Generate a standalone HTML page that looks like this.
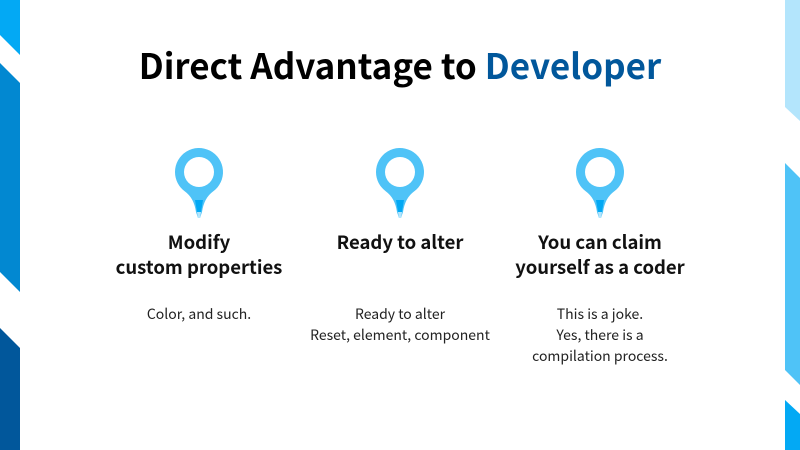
<!DOCTYPE html>
<html><head><style>
body{margin:0;width:800px;height:450px;background:#fff;position:relative;overflow:hidden;font-family:"Noto Sans CJK JP","Liberation Sans",sans-serif;}
.t{position:absolute;left:0;width:800px;top:37px;text-align:center;font-size:35px;font-weight:bold;color:#000;line-height:56px}
.col{position:absolute;width:240px;text-align:center}
h3{margin:0;font-size:18.5px;font-weight:600;line-height:25px;color:#111}
p{margin:0;font-size:14px;line-height:21px;color:#222}
svg.s{position:absolute;top:0}
</style></head><body>
<svg class="s" style="left:0" width="20" height="450">
<polygon points="0,0 20,0 20,55 0,35" fill="#03a9f4"/>
<polygon points="0,63 20,83 20,292 0,272" fill="#0288d1"/>
<polygon points="0,328 20,348 20,450 0,450" fill="#01579b"/>
</svg>
<svg class="s" style="left:785px" width="15" height="450">
<polygon points="0,0 15,0 15,121 0,107" fill="#b3e5fc"/>
<polygon points="0,163 15,178 15,385 0,370" fill="#4fc3f7"/>
<polygon points="0,400 15,414 15,450 0,450" fill="#03a9f4"/>
</svg>
<div class="t">Direct Advantage to <span style="color:#01579b">Developer</span></div>
<svg width="800" height="450" style="position:absolute;left:0;top:0">
<defs><g id="pin">
<path d="M-24,0 A24,24 0 1 1 14,19.5 Q5,26 3,40 L1,46 L-1,46 L-3,40 Q-5,26 -14,19.5 A24,24 0 0 1 -24,0Z" fill="#4fc3f7"/>
<path d="M-4,28 L4,28 L2,40 L-2,40Z" fill="#03a9f4"/>
<path d="M-2,40 L2,40 L1,46 L-1,46Z" fill="#b3e5fc"/>
<circle r="15" fill="#fff"/>
</g></defs>
<use href="#pin" x="199" y="172"/>
<use href="#pin" x="400" y="172"/>
<use href="#pin" x="600" y="172"/>
</svg>
<div class="col" style="left:79px;top:230px"><h3>Modify<br>custom properties</h3></div>
<div class="col" style="left:280px;top:230px"><h3>Ready to alter</h3></div>
<div class="col" style="left:480px;top:230px"><h3>You can claim<br>yourself as a coder</h3></div>
<div class="col" style="left:79px;top:304px"><p>Color, and such.</p></div>
<div class="col" style="left:280px;top:304px"><p>Ready to alter<br>Reset, element, component</p></div>
<div class="col" style="left:480px;top:304px"><p>This is a joke.<br>Yes, there is a<br>compilation process.</p></div>
</body></html>
